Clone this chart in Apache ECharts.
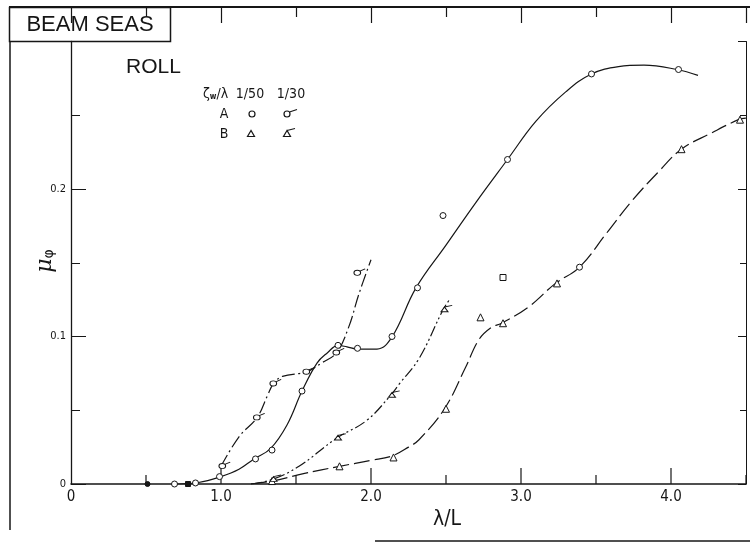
<!DOCTYPE html>
<html>
<head>
<meta charset="utf-8">
<script src="https://cdn.jsdelivr.net/npm/echarts@6/dist/echarts.min.js"></script>
<style>
  html, body { margin: 0; padding: 0; background: #fff; }
  #chart { width: 750px; height: 543px; }
</style>
</head>
<body>
<div id="chart"></div>
<script>
// Roll response in beam seas: faired curves and measured points, mu_phi vs lambda/L

// Faired curves
const curveA50X = [0.68, 0.85, 1.0, 1.12, 1.22, 1.33, 1.44, 1.54, 1.64, 1.71, 1.78, 1.84, 1.91, 2.04, 2.14, 2.3, 2.5, 2.7, 2.91, 3.1, 3.3, 3.47, 3.65, 3.82, 4.04, 4.18];
const curveA50Y = [0, 0.001, 0.005, 0.010, 0.017, 0.024, 0.040, 0.063, 0.082, 0.089, 0.094, 0.093, 0.0915, 0.0915, 0.0997, 0.133, 0.162, 0.191, 0.220, 0.246, 0.266, 0.278, 0.283, 0.284, 0.281, 0.277];

const curveA30X = [1.0, 1.12, 1.24, 1.31, 1.35, 1.41, 1.57, 1.67, 1.77, 1.85, 1.92, 2.0];
const curveA30Y = [0.012, 0.032, 0.045, 0.060, 0.068, 0.073, 0.076, 0.082, 0.089, 0.106, 0.129, 0.152];

const curveB50X = [1.2, 1.34, 1.55, 1.79, 2.0, 2.14, 2.25, 2.32, 2.49, 2.63, 2.72, 2.80, 2.87, 3.05, 3.23, 3.39, 3.57, 3.74, 3.92, 4.07, 4.27, 4.45, 4.5];
const curveB50Y = [0, 0.002, 0.007, 0.012, 0.016, 0.019, 0.025, 0.030, 0.051, 0.079, 0.098, 0.106, 0.109, 0.120, 0.136, 0.147, 0.170, 0.192, 0.212, 0.227, 0.238, 0.247, 0.248];

const curveB30X = [1.2, 1.34, 1.52, 1.77, 1.97, 2.13, 2.19, 2.32, 2.48, 2.53];
const curveB30Y = [0, 0.003, 0.012, 0.031, 0.043, 0.060, 0.068, 0.085, 0.118, 0.126];

// Measured points
const ptsA50X = [0.69, 0.83, 0.99, 1.23, 1.34, 1.54, 1.78, 1.91, 2.14, 2.31, 2.48, 2.91, 3.47, 4.05];
const ptsA50Y = [0, 0.0007, 0.005, 0.017, 0.023, 0.063, 0.094, 0.092, 0.100, 0.133, 0.182, 0.220, 0.278, 0.281];

const ptsA30X = [1.01, 1.24, 1.35, 1.57, 1.77, 1.91];
const ptsA30Y = [0.012, 0.045, 0.068, 0.076, 0.089, 0.143];

const ptsB50X = [1.34, 1.79, 2.15, 2.50, 2.73, 2.88, 3.24, 4.07, 4.46];
const ptsB50Y = [0.002, 0.012, 0.018, 0.051, 0.113, 0.109, 0.136, 0.227, 0.247];

const ptsB30X = [1.35, 1.78, 2.14, 2.49];
const ptsB30Y = [0.003, 0.031, 0.060, 0.118];

// Additional marks
const dotX = [0.51];
const dotY = [0];
const filledSquareX = [0.78];
const filledSquareY = [0];
const openSquareX = [2.88];
const openSquareY = [0.140];
const openCircleX = [3.39];
const openCircleY = [0.147];

// Axis labels and tick positions
const xTickLabels = { 0: '0', 1: '1.0', 2: '2.0', 3: '3.0', 4: '4.0' };
const yTickLabels = { 0: '0', 0.1: '0.1', 0.2: '0.2' };
const xTickValues = [0.5, 1, 1.5, 2, 2.5, 3, 3.5, 4, 4.5];

const pairs = (xs, ys) => xs.map((x, i) => [x, ys[i]]);
const INK = '#161616';
const FONT = "'Liberation Sans Narrow', 'DejaVu Sans Condensed', 'Liberation Sans', sans-serif";
const WIDE = "'Liberation Sans', 'DejaVu Sans', sans-serif";

// circle with a short tail (1/30 marker)
const flagCircle = 'path://M-1,0A1,1,0,1,1,1,0A1,1,0,1,1,-1,0ZM0.75,-0.66L2.4,-1.6';
// triangle with a short tail (1/30 marker)
const flagTriangle = 'path://M0,-1L-1,0.8L1,0.8ZM0,-1L2.2,-1.6';

function lineSeries(xs, ys, type) {
  return {
    type: 'line',
    xAxisIndex: 0, yAxisIndex: 0,
    data: pairs(xs, ys),
    showSymbol: false,
    smooth: 0.4,
    silent: true,
    z: 2,
    lineStyle: { color: INK, width: 1.2, type: type }
  };
}

function pointSeries(xs, ys, symbol, size, offset, fill) {
  return {
    type: 'scatter',
    xAxisIndex: 0, yAxisIndex: 0,
    data: pairs(xs, ys),
    symbol: symbol,
    symbolSize: size,
    symbolOffset: offset || [0, 0],
    symbolKeepAspect: true,
    z: 5,
    itemStyle: { color: fill || '#fff', borderColor: INK, borderWidth: 1, opacity: 1 }
  };
}

const chart = echarts.init(document.getElementById('chart'), null, { renderer: 'canvas' });

const axisCommon = {
  type: 'value',
  splitLine: { show: false },
  minorSplitLine: { show: false }
};

const staticGraphics = [
  // outer frame
  { type: 'line', shape: { x1: 9, y1: 7, x2: 750, y2: 7 }, style: { stroke: INK, lineWidth: 2 }, silent: true },
  { type: 'line', shape: { x1: 10, y1: 7, x2: 10, y2: 530 }, style: { stroke: INK, lineWidth: 1.5 }, silent: true },
  { type: 'line', shape: { x1: 375, y1: 541, x2: 750, y2: 541 }, style: { stroke: INK, lineWidth: 1.5 }, silent: true },
  // title box
  { type: 'rect', shape: { x: 9.5, y: 7.5, width: 161, height: 34 }, style: { stroke: INK, lineWidth: 1.5, fill: '#fff' }, silent: true },
  {
    type: 'text', x: 90, y: 25, silent: true,
    style: { text: 'BEAM SEAS', fill: INK, font: '22px ' + WIDE, textAlign: 'center', textVerticalAlign: 'middle', align: 'center', verticalAlign: 'middle' }
  },
  {
    type: 'text', x: 126, y: 67, silent: true,
    style: { text: 'ROLL', fill: INK, font: '21px ' + WIDE, textAlign: 'left', textVerticalAlign: 'middle', align: 'left', verticalAlign: 'middle' }
  },
  // key
  {
    type: 'text', x: 203, y: 94, silent: true,
    style: {
      text: '{a|ζ}{b|w}{a|/λ}', fill: INK, textAlign: 'left', textVerticalAlign: 'middle', align: 'left', verticalAlign: 'middle',
      rich: {
        a: { fontSize: 14, fontFamily: FONT, fill: INK, color: INK },
        b: { fontSize: 8, fontFamily: FONT, fill: INK, color: INK, fontWeight: 'bold', verticalAlign: 'bottom' }
      }
    }
  },
  { type: 'text', x: 250, y: 94, silent: true, style: { text: '1/50', fill: INK, font: '14px ' + FONT, textAlign: 'center', textVerticalAlign: 'middle', align: 'center', verticalAlign: 'middle' } },
  { type: 'text', x: 291, y: 94, silent: true, style: { text: '1/30', fill: INK, font: '14px ' + FONT, textAlign: 'center', textVerticalAlign: 'middle', align: 'center', verticalAlign: 'middle' } },
  { type: 'text', x: 224, y: 114, silent: true, style: { text: 'A', fill: INK, font: '14px ' + FONT, textAlign: 'center', textVerticalAlign: 'middle', align: 'center', verticalAlign: 'middle' } },
  { type: 'text', x: 224, y: 134, silent: true, style: { text: 'B', fill: INK, font: '14px ' + FONT, textAlign: 'center', textVerticalAlign: 'middle', align: 'center', verticalAlign: 'middle' } },
  { type: 'circle', shape: { cx: 252, cy: 114, r: 3 }, style: { stroke: INK, fill: '#fff', lineWidth: 1.2 }, silent: true },
  { type: 'circle', shape: { cx: 287, cy: 114, r: 3 }, style: { stroke: INK, fill: '#fff', lineWidth: 1.2 }, silent: true },
  { type: 'line', shape: { x1: 289.5, y1: 112, x2: 297, y2: 109.5 }, style: { stroke: INK, lineWidth: 1.2 }, silent: true },
  { type: 'polygon', shape: { points: [[251, 130.5], [247.5, 136.5], [254.5, 136.5]] }, style: { stroke: INK, fill: '#fff', lineWidth: 1.2 }, silent: true },
  { type: 'polygon', shape: { points: [[287, 130.5], [283.5, 136.5], [290.5, 136.5]] }, style: { stroke: INK, fill: '#fff', lineWidth: 1.2 }, silent: true },
  { type: 'line', shape: { x1: 287, y1: 130.5, x2: 295, y2: 128.5 }, style: { stroke: INK, lineWidth: 1.2 }, silent: true },
  // axis names
  {
    type: 'text', x: 447, y: 520, silent: true,
    style: { text: 'λ/L', fill: INK, font: '21px ' + FONT, textAlign: 'center', textVerticalAlign: 'middle', align: 'center', verticalAlign: 'middle' }
  },
  {
    type: 'text', x: 45, y: 261, rotation: Math.PI / 2, silent: true,
    style: {
      text: '{m|μ}{p|φ}', fill: INK, textAlign: 'center', textVerticalAlign: 'middle', align: 'center', verticalAlign: 'middle',
      rich: {
        m: { fontSize: 22, fontFamily: "'DejaVu Serif', serif", fontStyle: 'italic', fill: INK, color: INK },
        p: { fontSize: 14, fontFamily: "'DejaVu Sans', sans-serif", fill: INK, color: INK, verticalAlign: 'bottom' }
      }
    }
  }
];

chart.setOption({
  backgroundColor: '#ffffff',
  animation: false,
  grid: [
    { left: 71, right: 4, top: 41.5, bottom: 59, containLabel: false },
    // outer frame top edge carries its own tick row
    { left: 71, right: 4, top: 7, bottom: 59, containLabel: false }
  ],
  xAxis: [
    Object.assign({}, axisCommon, {
      gridIndex: 0,
      position: 'bottom',
      min: 0, max: 4.5, interval: 1,
      axisLine: { show: true, onZero: false, lineStyle: { color: INK, width: 1.5 } },
      axisTick: { show: false },
      axisLabel: {
        show: true, margin: 6, color: INK, fontFamily: FONT, fontSize: 15,
        showMaxLabel: false,
        formatter: v => (xTickLabels[v] !== undefined ? xTickLabels[v] : '')
      }
    }),
    Object.assign({}, axisCommon, {
      gridIndex: 1,
      position: 'top',
      min: 0, max: 4.5, interval: 1,
      axisLine: { show: false, onZero: false },
      axisTick: { show: true, inside: true, length: 16, lineStyle: { color: INK, width: 1.2 } },
      minorTick: { show: true, splitNumber: 2, length: 10, lineStyle: { color: INK, width: 1.2 } },
      axisLabel: { show: false }
    })
  ],
  yAxis: [
    Object.assign({}, axisCommon, {
      gridIndex: 0,
      position: 'left',
      min: 0, max: 0.3, interval: 0.1,
      axisLine: { show: true, onZero: false, lineStyle: { color: INK, width: 1.3 } },
      axisTick: { show: true, inside: true, length: 15, lineStyle: { color: INK, width: 1 } },
      minorTick: { show: true, splitNumber: 2, length: 9, lineStyle: { color: INK, width: 1 } },
      axisLabel: {
        show: true, margin: 5, color: INK, fontFamily: FONT, fontSize: 11,
        formatter: v => {
          const k = Math.round(v * 10) / 10;
          return yTickLabels[k] !== undefined ? yTickLabels[k] : '';
        }
      }
    }),
    Object.assign({}, axisCommon, {
      gridIndex: 0,
      position: 'right',
      min: 0, max: 0.3, interval: 0.1,
      axisLine: { show: true, onZero: false, lineStyle: { color: INK, width: 1 } },
      axisTick: { show: true, inside: true, length: 8, lineStyle: { color: INK, width: 1 } },
      minorTick: { show: true, splitNumber: 2, length: 6, lineStyle: { color: INK, width: 1 } },
      axisLabel: { show: false }
    }),
    Object.assign({}, axisCommon, { gridIndex: 1, show: false, min: 0, max: 1 })
  ],
  series: [
    lineSeries(curveA50X, curveA50Y, 'solid'),
    lineSeries(curveA30X, curveA30Y, [13, 3.5, 2, 3.5]),
    lineSeries(curveB50X, curveB50Y, [16, 5]),
    lineSeries(curveB30X, curveB30Y, [11, 3, 2, 3, 2, 3]),

    pointSeries(ptsA50X, ptsA50Y, 'circle', 6),
    pointSeries(ptsA30X, ptsA30Y, flagCircle, [11.2, 8.6], [2.1, -1.0]),
    pointSeries(ptsB50X, ptsB50Y, 'triangle', 7),
    pointSeries(ptsB30X, ptsB30Y, flagTriangle, [11.2, 8.4], [2.1, -1.4]),

    pointSeries(dotX, dotY, 'circle', 5, null, INK),
    pointSeries(filledSquareX, filledSquareY, 'rect', 5, null, INK),
    pointSeries(openSquareX, openSquareY, 'rect', 6),
    pointSeries(openCircleX, openCircleY, 'circle', 6)
  ],
  graphic: staticGraphics
});

// Inward ticks rising from the λ/L axis, placed through the axis scale
const zeroY = chart.convertToPixel({ yAxisIndex: 0 }, 0);
const tickMarks = xTickValues.map(v => {
  const px = chart.convertToPixel({ xAxisIndex: 0 }, v);
  const len = Number.isInteger(v) ? 16 : 9;
  return {
    type: 'line', silent: true, z: 1,
    shape: { x1: px, y1: zeroY, x2: px, y2: zeroY - len },
    style: { stroke: INK, lineWidth: 1.2 }
  };
});
chart.setOption({ graphic: staticGraphics.concat(tickMarks) }, { replaceMerge: ['graphic'] });
</script>
</body>
</html>
